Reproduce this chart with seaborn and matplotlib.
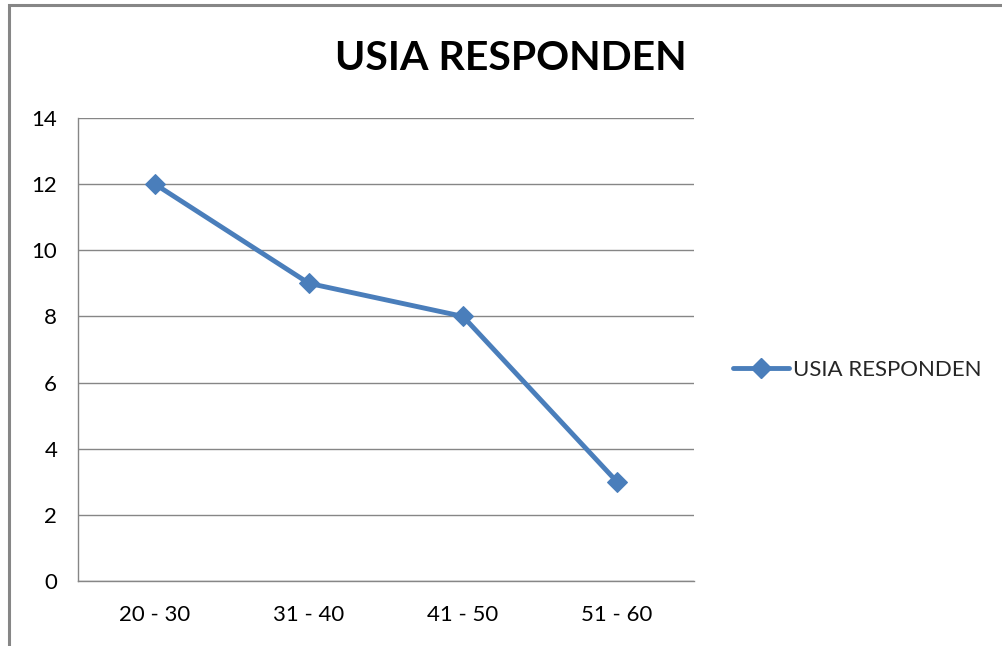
import matplotlib
matplotlib.use("Agg")
import matplotlib.pyplot as plt
import seaborn as sns
import pandas as pd
from matplotlib.patches import Rectangle
from matplotlib.lines import Line2D

categories = ["20 - 30", "31 - 40", "41 - 50", "51 - 60"]
values = [12, 9, 8, 3]
series_name = "USIA RESPONDEN"
y_ticks = [0, 2, 4, 6, 8, 10, 12, 14]

sns.set_theme(style="white")
plt.rcParams["font.family"] = ["Lato", "DejaVu Sans"]

line_color = "#4A7EBB"
grid_color = "#868686"
label_size = 16
line_width = 3.5

df = pd.DataFrame({"cat": categories, "val": values})

fig = plt.figure(figsize=(10.03, 6.46), dpi=100)
ax = fig.add_axes([78 / 1003, 1 - 581 / 646, (694 - 78) / 1003, (581 - 118) / 646])

x_pos = list(range(len(categories)))
df["x"] = x_pos
sns.lineplot(data=df, x="x", y="val", ax=ax, color=line_color, linewidth=line_width,
             marker="D", markersize=10, markeredgecolor=line_color, zorder=3)

ax.set_xlim(-0.5, len(categories) - 0.5)
ax.set_ylim(0, 14)
ax.set_yticks(y_ticks)
ax.set_yticklabels([str(v) for v in y_ticks], fontsize=label_size, color="black")
ax.set_xticks(x_pos)
ax.set_xticklabels(categories, fontsize=label_size, color="black")
ax.set_xticks([i - 0.5 for i in range(len(categories) + 1)], minor=True)
ax.tick_params(axis="x", which="major", length=0, pad=17)
ax.tick_params(axis="x", which="minor", length=7, width=1, color=grid_color, direction="out")
ax.tick_params(axis="y", which="major", length=7, width=1, color=grid_color, direction="out", pad=8)
ax.set_xlabel("")
ax.set_ylabel("")

ax.yaxis.grid(True, color=grid_color, linewidth=1)
ax.xaxis.grid(False)
ax.set_axisbelow(True)
for side in ["top", "right"]:
    ax.spines[side].set_visible(False)
for side in ["left", "bottom"]:
    ax.spines[side].set_color(grid_color)
    ax.spines[side].set_linewidth(1)

fig.text(511 / 1003, 1 - 58 / 646, series_name, ha="center", va="center",
         fontsize=29.5, fontweight="bold", color="black")

handle = Line2D([], [], color=line_color, linewidth=line_width, marker="D",
                markersize=10, markeredgecolor=line_color)
fig.legend([handle], [series_name], loc="center left",
           bbox_to_anchor=(713 / 1003, 1 - 370 / 646), frameon=False,
           fontsize=label_size, handlelength=2.5, handletextpad=0.18)

# chart frame; its right and bottom edges fall outside the canvas
fig.patches.append(Rectangle((9 / 1003, -0.1), 1.2, 1.1 - 5 / 646,
                             transform=fig.transFigure, fill=False,
                             edgecolor=grid_color, linewidth=2.2))

fig.savefig("out.png", dpi=100)
